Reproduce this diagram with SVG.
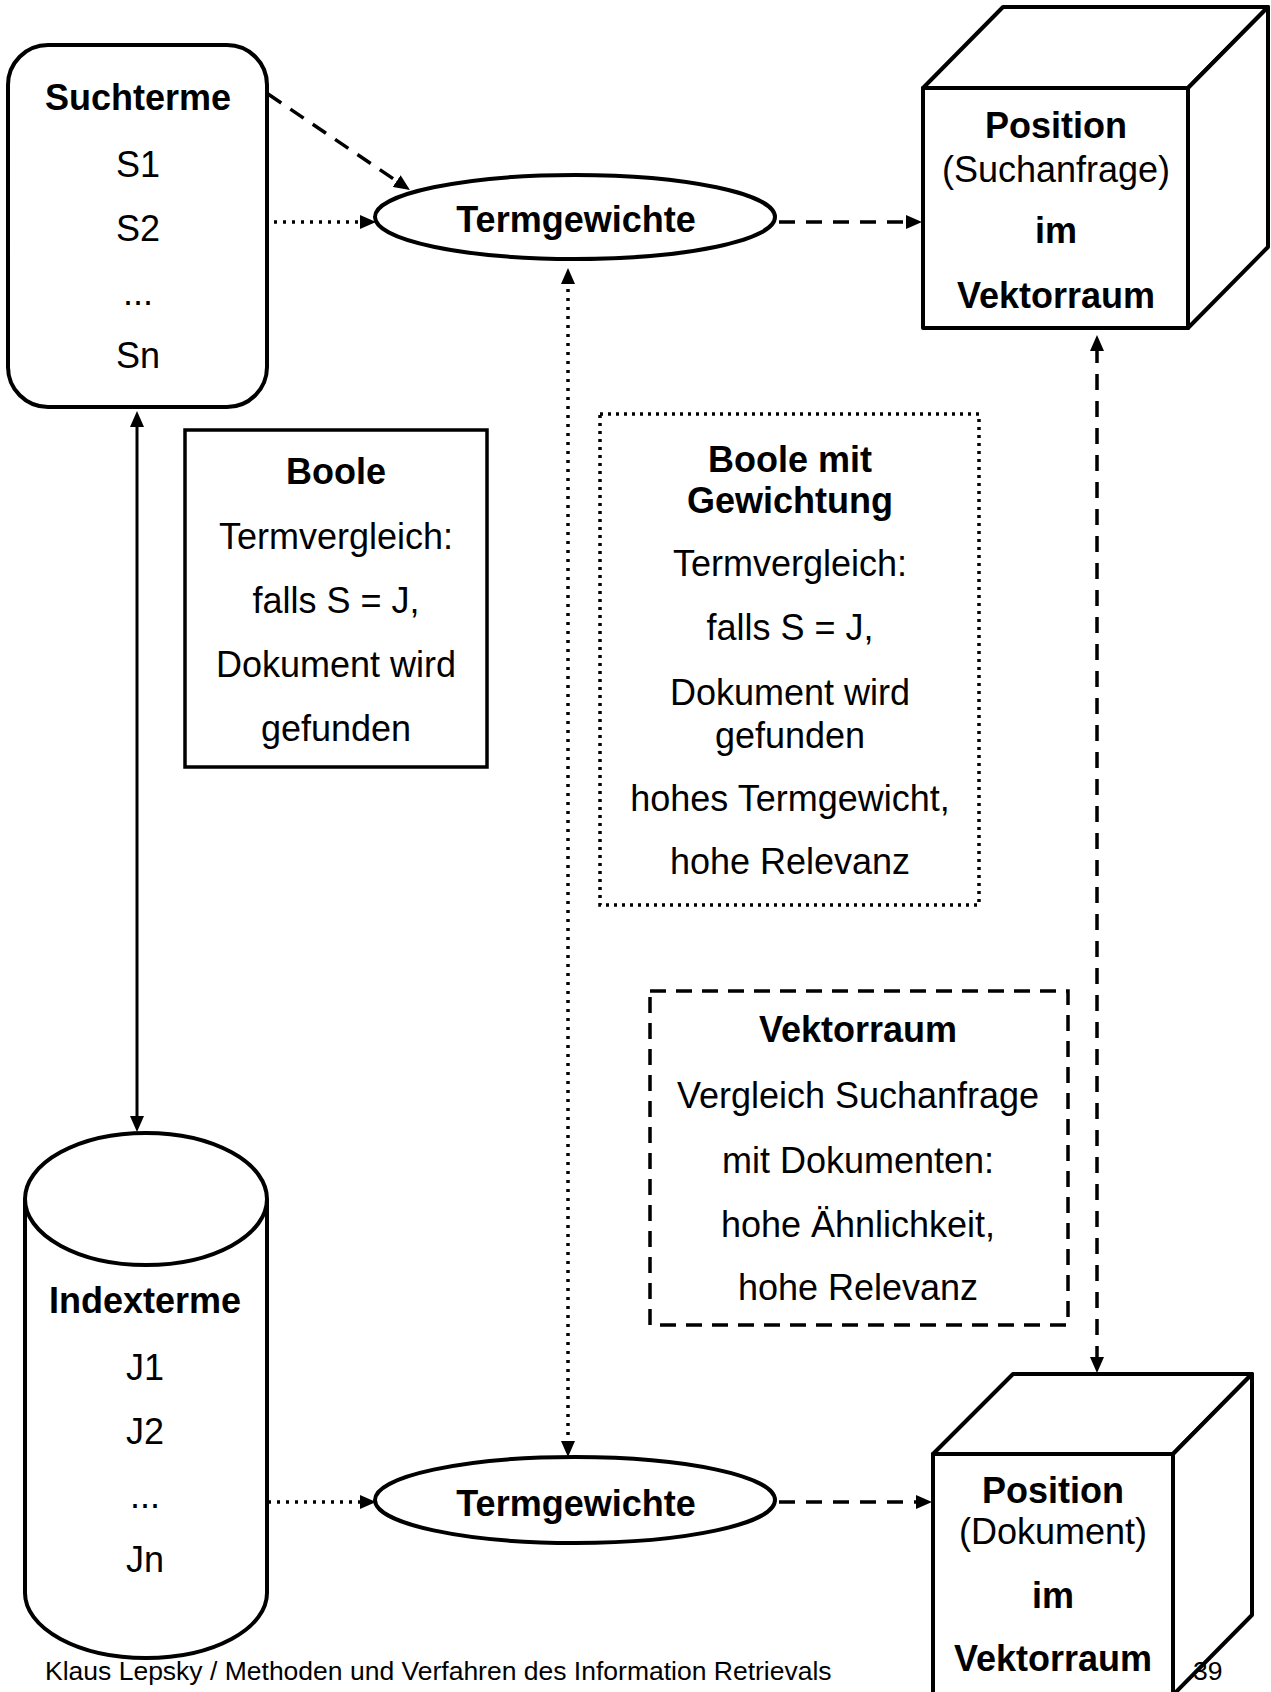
<svg xmlns="http://www.w3.org/2000/svg" width="1271" height="1692" viewBox="0 0 1271 1692">
  <style>
    text { font-family: "Liberation Sans", Arial, sans-serif; fill: #000; text-anchor: middle; }
    .t { font-size: 36px; }
    .b { font-size: 36px; font-weight: bold; }
    .foot { font-size: 26.5px; text-anchor: start; }
    .shape { fill: #fff; stroke: #000; stroke-width: 4; stroke-linejoin: round; }
    .box { fill: none; stroke: #000; stroke-width: 3.5; }
    .dotbox { fill: none; stroke: #000; stroke-width: 3.5; stroke-dasharray: 3 5; }
    .dashbox { fill: none; stroke: #000; stroke-width: 3.5; stroke-dasharray: 16 10; }
    .solid { fill: none; stroke: #000; stroke-width: 3; }
    .dotted { fill: none; stroke: #000; stroke-width: 3.5; stroke-dasharray: 3 6; }
    .dashed { fill: none; stroke: #000; stroke-width: 3.5; stroke-dasharray: 16 11; }
  </style>
  <defs>
    <marker id="arrow" markerUnits="userSpaceOnUse" markerWidth="16" markerHeight="14" refX="4" refY="7" orient="auto-start-reverse">
      <path d="M0,0 L16,7 L0,14 z" fill="#000"/>
    </marker>
  </defs>

  <rect width="1271" height="1692" fill="#fff"/>

  <!-- connectors -->
  <g id="connectors">
    <line class="dashed" x1="268" y1="94" x2="400" y2="183.3" marker-end="url(#arrow)"/>
    <line class="dotted" x1="265" y1="222" x2="364" y2="222" marker-end="url(#arrow)"/>
    <line class="dashed" x1="779" y1="222" x2="910" y2="222" marker-end="url(#arrow)"/>
    <line class="solid" x1="137" y1="423" x2="137" y2="1120" marker-start="url(#arrow)" marker-end="url(#arrow)"/>
    <line class="dotted" x1="568" y1="280" x2="568" y2="1445" marker-start="url(#arrow)" marker-end="url(#arrow)"/>
    <line class="dashed" x1="1097" y1="347" x2="1097" y2="1361" marker-start="url(#arrow)" marker-end="url(#arrow)"/>
    <line class="dotted" x1="268" y1="1502" x2="364" y2="1502" marker-end="url(#arrow)"/>
    <line class="dashed" x1="779" y1="1502" x2="920" y2="1502" marker-end="url(#arrow)"/>
  </g>

  <!-- search terms -->
  <g id="suchterme">
    <rect class="shape" x="8" y="45" width="259" height="362" rx="40" ry="40"/>
    <text class="b" x="138" y="110">Suchterme</text>
    <text class="t" x="138" y="177">S1</text>
    <text class="t" x="138" y="241">S2</text>
    <text class="t" x="138" y="305">...</text>
    <text class="t" x="138" y="368">Sn</text>
  </g>

  <!-- term weights (query) -->
  <g id="termgewichte-oben">
    <ellipse class="shape" cx="575" cy="217" rx="200" ry="42"/>
    <text class="b" x="576" y="232">Termgewichte</text>
  </g>

  <!-- query position cube -->
  <g id="position-suchanfrage">
    <polygon class="shape" points="923,88 1003,7 1268,7 1188,88"/>
    <polygon class="shape" points="1188,88 1268,7 1268,247 1188,328"/>
    <rect class="shape" x="923" y="88" width="265" height="240"/>
    <text class="b" x="1056" y="138">Position</text>
    <text class="t" x="1056" y="182">(Suchanfrage)</text>
    <text class="b" x="1056" y="243">im</text>
    <text class="b" x="1056" y="308">Vektorraum</text>
  </g>

  <!-- Boolean model -->
  <g id="boole">
    <rect class="box" x="185" y="430" width="302" height="337"/>
    <text class="b" x="336" y="484">Boole</text>
    <text class="t" x="336" y="549">Termvergleich:</text>
    <text class="t" x="336" y="613">falls S = J,</text>
    <text class="t" x="336" y="677">Dokument wird</text>
    <text class="t" x="336" y="741">gefunden</text>
  </g>

  <!-- weighted Boolean model -->
  <g id="boole-gewichtung">
    <rect class="dotbox" x="600" y="414" width="379" height="491"/>
    <text class="b" x="790" y="472">Boole mit</text>
    <text class="b" x="790" y="513">Gewichtung</text>
    <text class="t" x="790" y="576">Termvergleich:</text>
    <text class="t" x="790" y="640">falls S = J,</text>
    <text class="t" x="790" y="705">Dokument wird</text>
    <text class="t" x="790" y="748">gefunden</text>
    <text class="t" x="790" y="811">hohes Termgewicht,</text>
    <text class="t" x="790" y="874">hohe Relevanz</text>
  </g>

  <!-- vector space model -->
  <g id="vektorraum">
    <rect class="dashbox" x="650" y="991" width="418" height="334"/>
    <text class="b" x="858" y="1042">Vektorraum</text>
    <text class="t" x="858" y="1108">Vergleich Suchanfrage</text>
    <text class="t" x="858" y="1173">mit Dokumenten:</text>
    <text class="t" x="858" y="1237">hohe Ähnlichkeit,</text>
    <text class="t" x="858" y="1300">hohe Relevanz</text>
  </g>

  <!-- index terms (database cylinder) -->
  <g id="indexterme">
    <path class="shape" d="M25,1199 L25,1593 A121,65 0 0 0 267,1593 L267,1199"/>
    <ellipse class="shape" cx="146" cy="1199" rx="121" ry="66"/>
    <text class="b" x="145" y="1313">Indexterme</text>
    <text class="t" x="145" y="1380">J1</text>
    <text class="t" x="145" y="1444">J2</text>
    <text class="t" x="145" y="1508">...</text>
    <text class="t" x="145" y="1572">Jn</text>
  </g>

  <!-- term weights (documents) -->
  <g id="termgewichte-unten">
    <ellipse class="shape" cx="575" cy="1500" rx="200" ry="43"/>
    <text class="b" x="576" y="1516">Termgewichte</text>
  </g>

  <!-- document position cube -->
  <g id="position-dokument">
    <polygon class="shape" points="933,1454 1013,1374 1252,1374 1173,1454"/>
    <polygon class="shape" points="1173,1454 1252,1374 1252,1615 1173,1695"/>
    <rect class="shape" x="933" y="1454" width="240" height="250"/>
    <text class="b" x="1053" y="1503">Position</text>
    <text class="t" x="1053" y="1544">(Dokument)</text>
    <text class="b" x="1053" y="1608">im</text>
    <text class="b" x="1053" y="1671">Vektorraum</text>
  </g>

  <!-- footer -->
  <g id="footer">
    <text class="foot" x="45" y="1680">Klaus Lepsky / Methoden und Verfahren des Information Retrievals</text>
    <text class="foot" x="1193" y="1680">39</text>
  </g>
</svg>
